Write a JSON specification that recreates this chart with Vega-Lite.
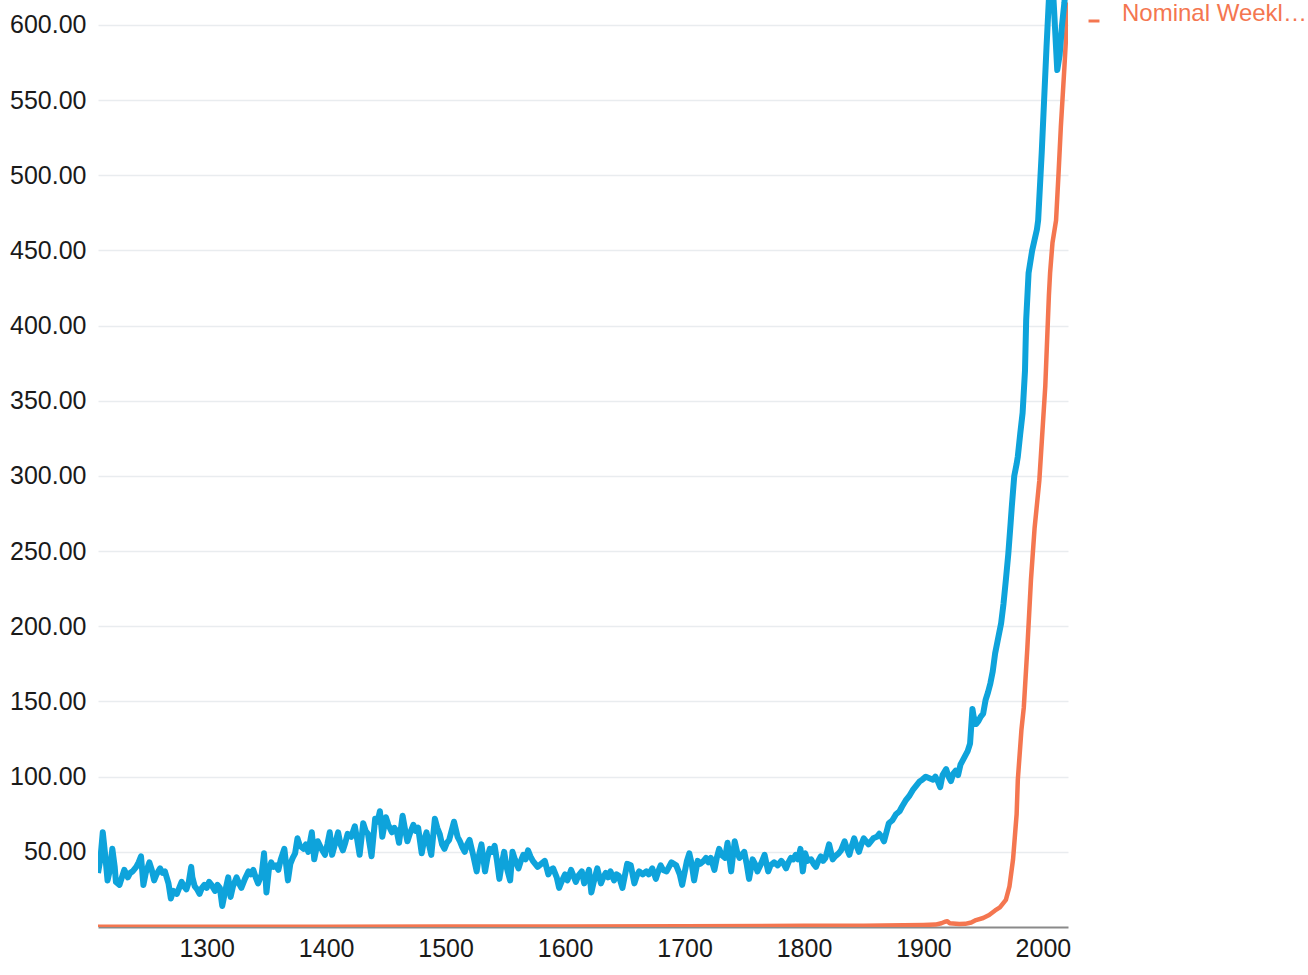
{
  "$schema": "https://vega.github.io/schema/vega-lite/v6.json",
  "width": 970,
  "height": 927,
  "autosize": {"type": "none"},
  "padding": {"left": 98, "top": 0, "right": 240, "bottom": 48},
  "background": "white",
  "config": {
    "view": {"stroke": null},
    "font": "Liberation Sans"
  },
  "datasets": {
    "real": [
      {"year":1209,"value":36},{"year":1211,"value":45},{"year":1213,"value":63},{"year":1215,"value":48},{"year":1217,"value":31},{"year":1219,"value":38},{"year":1221,"value":52},{"year":1223,"value":40},{"year":1224,"value":30},{"year":1227,"value":28},{"year":1229,"value":33},{"year":1231,"value":38},{"year":1234,"value":33},{"year":1236,"value":36},{"year":1238,"value":37},{"year":1241,"value":40},{"year":1243,"value":43},{"year":1245,"value":47},{"year":1247,"value":28},{"year":1249,"value":36},{"year":1252,"value":43},{"year":1254,"value":38},{"year":1256,"value":31},{"year":1258,"value":35},{"year":1261,"value":39},{"year":1263,"value":36},{"year":1265,"value":37},{"year":1268,"value":29},{"year":1270,"value":19},{"year":1272,"value":24},{"year":1275,"value":22},{"year":1277,"value":26},{"year":1279,"value":30},{"year":1281,"value":27},{"year":1283,"value":25},{"year":1285,"value":30},{"year":1287,"value":40},{"year":1288,"value":33},{"year":1290,"value":27},{"year":1292,"value":25},{"year":1294,"value":22},{"year":1296,"value":26},{"year":1298,"value":28},{"year":1300,"value":26},{"year":1302,"value":30},{"year":1304,"value":28},{"year":1307,"value":24},{"year":1309,"value":28},{"year":1311,"value":26},{"year":1313,"value":14},{"year":1315,"value":22},{"year":1318,"value":33},{"year":1320,"value":20},{"year":1322,"value":27},{"year":1325,"value":33},{"year":1327,"value":29},{"year":1329,"value":26},{"year":1332,"value":32},{"year":1335,"value":37},{"year":1337,"value":35},{"year":1339,"value":38},{"year":1341,"value":33},{"year":1343,"value":29},{"year":1346,"value":35},{"year":1348,"value":49},{"year":1350,"value":23},{"year":1352,"value":38},{"year":1354,"value":43},{"year":1356,"value":40},{"year":1358,"value":41},{"year":1360,"value":38},{"year":1362,"value":45},{"year":1365,"value":52},{"year":1368,"value":31},{"year":1370,"value":42},{"year":1372,"value":46},{"year":1374,"value":49},{"year":1376,"value":59},{"year":1378,"value":54},{"year":1381,"value":52},{"year":1383,"value":55},{"year":1385,"value":50},{"year":1388,"value":63},{"year":1390,"value":45},{"year":1393,"value":57},{"year":1396,"value":52},{"year":1399,"value":48},{"year":1401,"value":55},{"year":1403,"value":63},{"year":1405,"value":48},{"year":1408,"value":57},{"year":1410,"value":63},{"year":1412,"value":55},{"year":1414,"value":51},{"year":1416,"value":56},{"year":1418,"value":62},{"year":1421,"value":60},{"year":1424,"value":67},{"year":1426,"value":58},{"year":1428,"value":48},{"year":1431,"value":69},{"year":1433,"value":64},{"year":1435,"value":62},{"year":1438,"value":47},{"year":1441,"value":72},{"year":1443,"value":70},{"year":1445,"value":77},{"year":1447,"value":60},{"year":1450,"value":73},{"year":1452,"value":68},{"year":1455,"value":63},{"year":1457,"value":66},{"year":1459,"value":64},{"year":1461,"value":56},{"year":1464,"value":74},{"year":1466,"value":65},{"year":1468,"value":57},{"year":1470,"value":62},{"year":1473,"value":68},{"year":1475,"value":64},{"year":1477,"value":66},{"year":1480,"value":49},{"year":1482,"value":58},{"year":1484,"value":63},{"year":1486,"value":55},{"year":1488,"value":48},{"year":1491,"value":72},{"year":1493,"value":66},{"year":1495,"value":62},{"year":1497,"value":55},{"year":1499,"value":52},{"year":1501,"value":56},{"year":1503,"value":58},{"year":1505,"value":64},{"year":1507,"value":70},{"year":1510,"value":60},{"year":1512,"value":57},{"year":1514,"value":53},{"year":1516,"value":50},{"year":1518,"value":55},{"year":1520,"value":58},{"year":1523,"value":48},{"year":1526,"value":37},{"year":1528,"value":48},{"year":1530,"value":55},{"year":1533,"value":37},{"year":1535,"value":46},{"year":1537,"value":52},{"year":1539,"value":50},{"year":1541,"value":54},{"year":1543,"value":44},{"year":1545,"value":32},{"year":1547,"value":42},{"year":1549,"value":50},{"year":1551,"value":40},{"year":1554,"value":31},{"year":1556,"value":50},{"year":1558,"value":45},{"year":1561,"value":39},{"year":1563,"value":44},{"year":1565,"value":48},{"year":1567,"value":45},{"year":1569,"value":51},{"year":1571,"value":47},{"year":1573,"value":44},{"year":1575,"value":42},{"year":1577,"value":40},{"year":1580,"value":42},{"year":1583,"value":44},{"year":1586,"value":35},{"year":1588,"value":38},{"year":1590,"value":39},{"year":1593,"value":33},{"year":1595,"value":26},{"year":1597,"value":30},{"year":1600,"value":35},{"year":1602,"value":31},{"year":1605,"value":38},{"year":1607,"value":34},{"year":1609,"value":30},{"year":1611,"value":34},{"year":1614,"value":37},{"year":1616,"value":29},{"year":1618,"value":33},{"year":1620,"value":38},{"year":1622,"value":23},{"year":1624,"value":30},{"year":1627,"value":39},{"year":1630,"value":29},{"year":1632,"value":33},{"year":1634,"value":36},{"year":1636,"value":33},{"year":1638,"value":37},{"year":1641,"value":31},{"year":1643,"value":35},{"year":1645,"value":34},{"year":1648,"value":26},{"year":1650,"value":34},{"year":1652,"value":42},{"year":1655,"value":41},{"year":1658,"value":29},{"year":1660,"value":34},{"year":1662,"value":37},{"year":1665,"value":35},{"year":1668,"value":37},{"year":1670,"value":35},{"year":1673,"value":39},{"year":1676,"value":32},{"year":1678,"value":37},{"year":1680,"value":41},{"year":1682,"value":38},{"year":1685,"value":37},{"year":1687,"value":40},{"year":1689,"value":43},{"year":1691,"value":42},{"year":1693,"value":41},{"year":1696,"value":35},{"year":1698,"value":28},{"year":1700,"value":36},{"year":1702,"value":44},{"year":1704,"value":49},{"year":1706,"value":42},{"year":1708,"value":31},{"year":1711,"value":44},{"year":1713,"value":42},{"year":1716,"value":44},{"year":1718,"value":46},{"year":1720,"value":43},{"year":1722,"value":46},{"year":1725,"value":38},{"year":1727,"value":46},{"year":1729,"value":52},{"year":1731,"value":48},{"year":1734,"value":46},{"year":1736,"value":56},{"year":1739,"value":37},{"year":1742,"value":57},{"year":1744,"value":50},{"year":1746,"value":46},{"year":1748,"value":48},{"year":1750,"value":50},{"year":1752,"value":42},{"year":1754,"value":32},{"year":1757,"value":45},{"year":1759,"value":42},{"year":1761,"value":37},{"year":1764,"value":42},{"year":1767,"value":48},{"year":1770,"value":37},{"year":1772,"value":41},{"year":1775,"value":43},{"year":1778,"value":41},{"year":1781,"value":44},{"year":1783,"value":42},{"year":1785,"value":39},{"year":1787,"value":43},{"year":1789,"value":46},{"year":1791,"value":45},{"year":1793,"value":48},{"year":1795,"value":45},{"year":1797,"value":52},{"year":1799,"value":37},{"year":1801,"value":49},{"year":1803,"value":44},{"year":1806,"value":45},{"year":1808,"value":42},{"year":1810,"value":40},{"year":1812,"value":44},{"year":1814,"value":47},{"year":1816,"value":44},{"year":1818,"value":46},{"year":1821,"value":55},{"year":1824,"value":45},{"year":1826,"value":47},{"year":1829,"value":49},{"year":1831,"value":51},{"year":1834,"value":57},{"year":1836,"value":52},{"year":1838,"value":48},{"year":1840,"value":54},{"year":1842,"value":59},{"year":1844,"value":54},{"year":1846,"value":50},{"year":1848,"value":55},{"year":1850,"value":59},{"year":1852,"value":57},{"year":1854,"value":55},{"year":1856,"value":57},{"year":1858,"value":59},{"year":1861,"value":60},{"year":1863,"value":62},{"year":1865,"value":60},{"year":1867,"value":57},{"year":1869,"value":63},{"year":1871,"value":69},{"year":1874,"value":71},{"year":1877,"value":75},{"year":1880,"value":77},{"year":1882,"value":80},{"year":1885,"value":84},{"year":1888,"value":87},{"year":1891,"value":91},{"year":1894,"value":94},{"year":1897,"value":97},{"year":1899,"value":98},{"year":1902,"value":100},{"year":1905,"value":99},{"year":1908,"value":98},{"year":1910,"value":100},{"year":1912,"value":97},{"year":1914,"value":93},{"year":1916,"value":101},{"year":1919,"value":105},{"year":1921,"value":100},{"year":1923,"value":97},{"year":1925,"value":102},{"year":1927,"value":104},{"year":1929,"value":101},{"year":1931,"value":108},{"year":1933,"value":111},{"year":1935,"value":114},{"year":1937,"value":117},{"year":1939,"value":122},{"year":1941,"value":145},{"year":1942,"value":140},{"year":1944,"value":135},{"year":1946,"value":137},{"year":1948,"value":140},{"year":1950,"value":142},{"year":1952,"value":151},{"year":1954,"value":156},{"year":1956,"value":162},{"year":1958,"value":170},{"year":1960,"value":182},{"year":1962,"value":190},{"year":1965,"value":202},{"year":1967,"value":215},{"year":1969,"value":231},{"year":1971,"value":248},{"year":1973,"value":269},{"year":1974,"value":280},{"year":1976,"value":300},{"year":1978,"value":308},{"year":1979,"value":313},{"year":1981,"value":328},{"year":1983,"value":342},{"year":1985,"value":370},{"year":1986,"value":404},{"year":1988,"value":435},{"year":1989,"value":440},{"year":1991,"value":450},{"year":1993,"value":457},{"year":1995,"value":464},{"year":1996,"value":470},{"year":1998,"value":500},{"year":1999,"value":515},{"year":2001,"value":550},{"year":2003,"value":585},{"year":2005,"value":617},{"year":2007,"value":640},{"year":2008,"value":630},{"year":2010,"value":600},{"year":2012,"value":570},{"year":2014,"value":580},{"year":2016,"value":600},{"year":2018,"value":615},{"year":2020,"value":635},{"year":2021,"value":640}
    ],
    "nominal": [
      {"year":1209,"value":0.1},{"year":1300,"value":0.15},{"year":1400,"value":0.2},{"year":1500,"value":0.25},{"year":1600,"value":0.4},{"year":1700,"value":0.5},{"year":1800,"value":0.8},{"year":1850,"value":0.9},{"year":1900,"value":1.4},{"year":1910,"value":1.6},{"year":1915,"value":2.5},{"year":1918,"value":3.5},{"year":1920,"value":3.8},{"year":1922,"value":2.5},{"year":1930,"value":2.0},{"year":1935,"value":2.1},{"year":1940,"value":3.0},{"year":1944,"value":4.6},{"year":1950,"value":6},{"year":1955,"value":8},{"year":1960,"value":11},{"year":1964,"value":13},{"year":1969,"value":18},{"year":1972,"value":27},{"year":1975,"value":45},{"year":1977,"value":65},{"year":1978,"value":75},{"year":1979,"value":98},{"year":1982,"value":131},{"year":1984,"value":146},{"year":1987,"value":186},{"year":1990,"value":231},{"year":1993,"value":265},{"year":1997,"value":297},{"year":2002,"value":360},{"year":2005,"value":420},{"year":2006,"value":435},{"year":2008,"value":455},{"year":2011,"value":470},{"year":2013,"value":500},{"year":2015,"value":532},{"year":2018,"value":572},{"year":2021,"value":615}
    ]
  },
  "encoding": {
    "x": {
      "field": "year", "type": "quantitative",
      "scale": {"domain": [1209, 2021], "nice": false, "zero": false},
      "axis": {
        "title": null, "values": [1300,1400,1500,1600,1700,1800,1900,2000],
        "format": "d", "ticks": false, "grid": false,
        "domainColor": "#8a8a8a", "domainWidth": 2,
        "labelFontSize": 25, "labelColor": "#1a1a1a", "labelPadding": 9
      }
    },
    "y": {
      "field": "value", "type": "quantitative",
      "scale": {"domain": [0, 616.6], "nice": false},
      "axis": {
        "title": null, "values": [50,100,150,200,250,300,350,400,450,500,550,600],
        "format": ".2f", "ticks": false, "domain": false,
        "gridColor": "#e9ecef", "gridWidth": 1.5,
        "labelFontSize": 25, "labelColor": "#1a1a1a", "labelPadding": 12
      }
    },
    "color": {
      "field": "series", "type": "nominal",
      "scale": {"domain": ["Real Weekly Wages", "Nominal Weekly Wages"], "range": ["#0ea3db", "#f47650"]},
      "legend": {
        "title": null, "values": ["Nominal Weekly Wages"],
        "orient": "none", "legendX": 984, "legendY": 9,
        "symbolType": "stroke", "symbolSize": 120, "symbolStrokeWidth": 3,
        "labelFontSize": 24, "labelColor": "#f47650", "labelLimit": 188,
        "labelOffset": 16, "labelBaseline": "alphabetic", "padding": 0
      }
    }
  },
  "layer": [
    {
      "data": {"name": "nominal"},
      "transform": [{"calculate": "'Nominal Weekly Wages'", "as": "series"}],
      "mark": {"type": "line", "strokeWidth": 4.5, "clip": true, "strokeJoin": "round"}
    },
    {
      "data": {"name": "real"},
      "transform": [{"calculate": "'Real Weekly Wages'", "as": "series"}],
      "mark": {"type": "line", "strokeWidth": 6, "clip": true, "strokeJoin": "round"}
    }
  ]
}
